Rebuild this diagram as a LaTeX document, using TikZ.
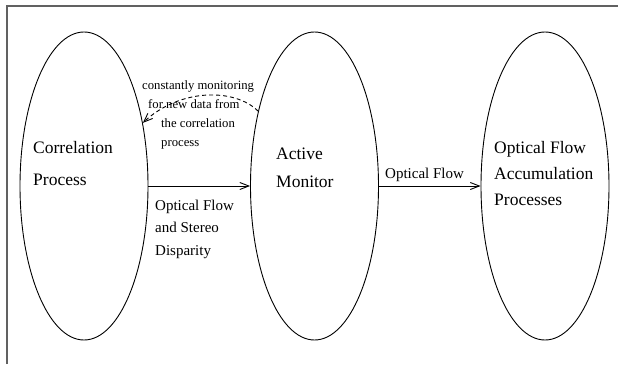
\documentclass[tikz,border=0pt]{standalone}
\usepackage{fontspec}
\setmainfont{Liberation Serif}
\usetikzlibrary{shapes.geometric,arrows.meta}
\begin{document}
\begin{tikzpicture}[x=1pt,y=-1pt,
  proc/.style={draw,ellipse,line width=0.9pt,minimum width=128pt,minimum height=308pt,inner sep=0pt},
  bigtxt/.style={anchor=north west,inner sep=0pt,align=left},
  flow/.style={line width=0.9pt,-{Straight Barb[length=9pt,width=7pt,line width=0.9pt]}},
  frameline/.style={draw=black!62,line width=1.5pt}
]
\useasboundingbox (0,0) rectangle (618,364);
\draw[frameline] (7,364) -- (7,6) -- (618,6);

\node[proc] (corr) at (84,186) {};
\node[proc] (mon) at (314.5,186) {};
\node[proc] (acc) at (545,186) {};

\node[bigtxt,font=\fontsize{17.5}{32}\selectfont] (corrtxt) at (33,141) {Correlation\\Process};
\node[bigtxt,font=\fontsize{17.5}{28}\selectfont] (montxt) at (276,148) {Active\\Monitor};
\node[bigtxt,font=\fontsize{17.5}{26}\selectfont] (acctxt) at (494,141) {Optical Flow\\Accumulation\\Processes};

\draw[flow] (corr.east) -- (mon.west);
\draw[flow] (mon.east) -- (acc.west);

\node[bigtxt,font=\fontsize{15}{22.5}\selectfont] (lab1) at (155,199.5) {Optical Flow\\and Stereo\\Disparity};
\node[bigtxt,font=\fontsize{15}{22.5}\selectfont] (lab2) at (385,167.5) {Optical Flow};

\draw[dashed,flow,dash pattern=on 4pt off 3pt] (mon.127.7) .. controls (235,88) and (180,88) .. (corr.47.8);

\node[bigtxt,font=\fontsize{12.7}{19}\selectfont] (lab3) at (142,80)
  {constantly monitoring\\\hspace*{6pt}for new data from\\\hspace*{19pt}the correlation\\\hspace*{19pt}process};
\end{tikzpicture}
\end{document}
